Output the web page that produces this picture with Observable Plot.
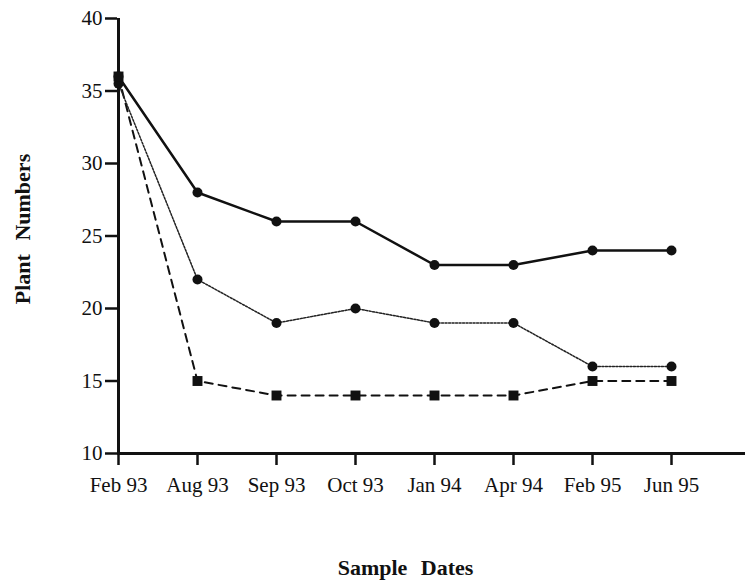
<!DOCTYPE html>
<html>
<head>
<meta charset="utf-8">
<script src="https://cdn.jsdelivr.net/npm/d3@7"></script>
<script src="https://cdn.jsdelivr.net/npm/@observablehq/plot@0.6"></script>
<style>
  html, body { margin: 0; padding: 0; background: #fff; }
  #chart svg { display: block; }
</style>
</head>
<body>
<div id="chart"></div>
<script>
const dates = ["Feb 93", "Aug 93", "Sep 93", "Oct 93", "Jan 94", "Apr 94", "Feb 95", "Jun 95"];
const solidSeries = [36, 28, 26, 26, 23, 23, 24, 24];
const dottedSeries = [35.5, 22, 19, 20, 19, 19, 16, 16];
const dashedSeries = [36, 15, 14, 14, 14, 14, 15, 15];
const yTicks = [10, 15, 20, 25, 30, 35, 40];
const yTitle = "Plant Numbers";
const xTitle = "Sample Dates";

const toRows = (vals) => dates.map((d, i) => ({date: d, value: vals[i]}));
const solid = toRows(solidSeries);
const dotted = toRows(dottedSeries);
const dashed = toRows(dashedSeries);

const chart = Plot.plot({
  width: 747,
  height: 580,
  marginLeft: 117,
  marginRight: 2,
  marginTop: 18,
  marginBottom: 127,
  style: {fontFamily: "'Liberation Serif', 'DejaVu Serif', serif", fontSize: "21px", color: "#111", background: "#fff"},
  x: {type: "point", domain: dates, range: [117, 671], padding: 0},
  y: {domain: [10, 40], range: [453, 18]},
  marks: [
    Plot.axisY({ticks: yTicks, tickSize: 12, tickPadding: 3, strokeWidth: 2.5, fontSize: 21, label: null}),
    Plot.axisX({tickSize: 12, tickPadding: 12, strokeWidth: 2.5, fontSize: 21, label: null}),
    Plot.ruleY([10], {stroke: "#111", strokeWidth: 3}),
    Plot.ruleX([dates[0]], {y1: 10, y2: 40, stroke: "#111", strokeWidth: 3}),
    Plot.text([yTitle], {frameAnchor: "left", dx: -95, dy: -7, rotate: -90, textAnchor: "middle", lineAnchor: "middle",
      fontSize: 22, fontWeight: "bold", fill: "#111", className: "axis-title"}),
    Plot.text([xTitle], {frameAnchor: "bottom", dx: -26, dy: 114, textAnchor: "middle", lineAnchor: "middle",
      fontSize: 22, fontWeight: "bold", fill: "#111", className: "axis-title"}),
    Plot.line(dashed, {x: "date", y: "value", stroke: "#111", strokeWidth: 2, strokeDasharray: "8,6"}),
    Plot.line(dotted, {x: "date", y: "value", stroke: "#222", strokeWidth: 1.5, strokeDasharray: "2,1.5"}),
    Plot.line(solid, {x: "date", y: "value", stroke: "#111", strokeWidth: 2.5}),
    Plot.dot(dotted, {x: "date", y: "value", r: 5, fill: "#111"}),
    Plot.dot(solid, {x: "date", y: "value", r: 5, fill: "#111"}),
    Plot.dot(dashed, {x: "date", y: "value", symbol: "square", r: 5.6, fill: "#111"})
  ]
});

d3.select(chart).selectAll(".axis-title text").attr("word-spacing", "8px");

document.getElementById("chart").appendChild(chart);
</script>
</body>
</html>
